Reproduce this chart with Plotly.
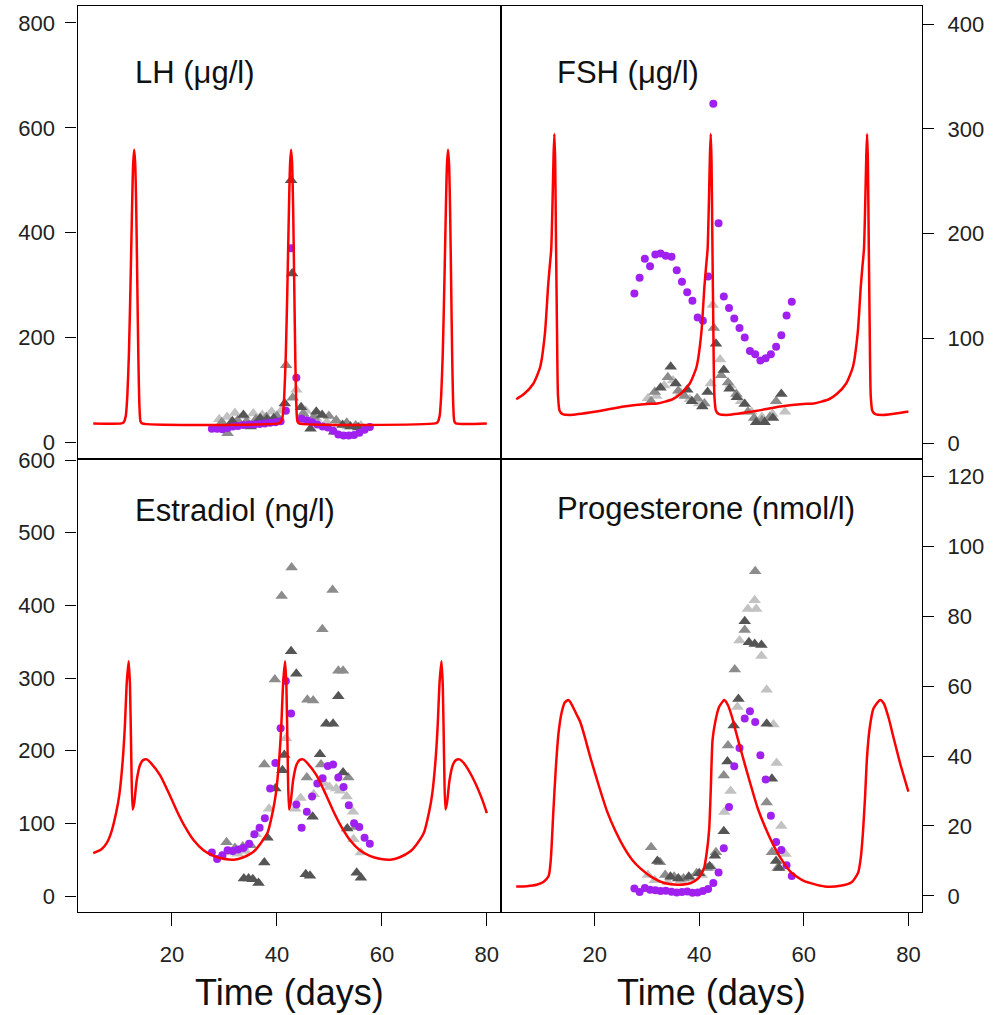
import plotly.graph_objects as go

# ---- model curves (red) ----
lh_t = [5.0, 10.4, 10.8, 11.2, 11.5, 11.8, 12.1, 12.4, 12.6, 12.8, 13.0, 13.2, 13.4, 13.6, 13.8, 14.0, 14.3,
        40.3, 40.7, 41.1, 41.4, 41.7, 42.0, 42.3, 42.5, 42.7, 42.9, 43.1, 43.3, 43.5, 43.7, 43.9, 44.2,
        70.2, 70.6, 71.0, 71.3, 71.6, 71.9, 72.2, 72.4, 72.6, 72.8, 73.0, 73.2, 73.4, 73.6, 73.8, 74.1, 80.0]
lh_model = [36, 36, 38, 50, 90, 170, 300, 450, 530, 558, 530, 440, 300, 160, 70, 40, 36,
            36, 38, 50, 90, 170, 300, 450, 530, 558, 530, 440, 300, 160, 70, 40, 36,
            36, 38, 50, 90, 170, 300, 450, 530, 558, 530, 440, 300, 160, 70, 40, 36, 36]

fsh_t = [5.0, 6.5, 8.3, 9.6, 10.5, 11.1, 11.4, 11.7, 11.95, 12.15, 12.3, 12.45, 12.6, 12.8, 13.0, 13.3, 13.8,
         15.3, 20.0, 25.6, 30.0, 32.0,
         34.9, 36.4, 38.2, 39.5, 40.4, 41.0, 41.3, 41.6, 41.85, 42.05, 42.2, 42.35, 42.5, 42.7, 42.9, 43.2, 43.7,
         45.2, 49.9, 55.5, 59.9, 61.9,
         64.8, 66.3, 68.1, 69.4, 70.3, 70.9, 71.2, 71.5, 71.75, 71.95, 72.1, 72.25, 72.4, 72.6, 72.8, 73.1, 73.6,
         75.1, 79.8, 80.0]
fsh_model = [42, 47, 57, 73, 105, 150, 168, 185, 230, 275, 295, 270, 200, 110, 45, 31, 28,
             27, 30, 35, 37.5, 38,
             42, 47, 57, 73, 105, 150, 168, 185, 230, 275, 295, 270, 200, 110, 45, 31, 28,
             27, 30, 35, 37.5, 38,
             42, 47, 57, 73, 105, 150, 168, 185, 230, 275, 295, 270, 200, 110, 45, 31, 28,
             27, 30, 30]

e2_t = [5.0, 6.5, 7.5, 8.4, 9.4, 10.0, 10.6, 11.0, 11.4, 11.75, 12.0, 12.25, 12.5, 12.8, 13.3, 13.9, 14.5,
        15.2, 16.0, 17.75, 19.5, 21.0, 22.5, 24.1, 26.0, 28.0, 30.0, 31.8, 33.5, 35.7,
        38.2, 39.2, 39.8, 40.4, 40.8, 41.2, 41.55, 41.8, 42.05, 42.3, 42.6, 43.1, 43.7, 44.3,
        45.0, 45.8, 47.55, 49.3, 50.8, 52.3, 53.9, 55.8, 57.8, 59.8, 61.6, 63.3, 65.5, 66.5,
        68.0, 69.0, 69.6, 70.2, 70.6, 71.0, 71.35, 71.6, 71.85, 72.1, 72.4, 72.9, 73.5, 74.1,
        74.8, 75.6, 77.35, 79.1, 80.0]
e2_model = [59, 64, 72, 87, 116, 141, 185, 230, 295, 323, 290, 190, 119, 128, 160, 180, 187,
            188, 183, 166, 140, 116, 95, 77, 63, 55, 51, 50, 53, 62,
            87, 116, 141, 185, 230, 295, 323, 290, 190, 119, 128, 160, 180, 187,
            188, 183, 166, 140, 116, 95, 77, 63, 55, 51, 50, 53, 62, 70,
            87, 116, 141, 185, 230, 295, 323, 290, 190, 119, 128, 160, 180, 187,
            188, 183, 162, 133, 114]

p4_t = [5.0, 7.0, 8.9, 10.2, 11.2, 11.6, 12.1, 12.6, 13.1, 13.7, 14.3, 15.0, 15.7, 16.5, 17.25, 18.2, 19.2,
        20.8, 22.4, 24.0, 25.6, 27.2, 28.8, 31.0, 33.3, 36.0, 38.4, 39.8, 40.9, 41.4, 41.9, 42.2, 42.55,
        43.1, 43.8, 44.8, 45.5, 46.3, 47.0, 48.0, 49.6, 51.2, 52.8, 54.4, 56.0, 57.6, 60.0, 64.0, 67.0,
        69.2, 70.4, 70.9, 71.3, 71.7, 72.1, 72.6, 73.3, 74.6, 75.3, 76.2, 77.2, 78.4, 80.0]
p4_model = [2.7, 2.8, 3.2, 4.0, 5.7, 10, 24, 37, 46.6, 52.5, 55.3, 56, 54.5, 52, 49.7, 45, 39.5,
            31.5, 24.1, 18.5, 13.9, 10.3, 7.8, 5.3, 3.7, 3.2, 3.7, 5.0, 7.8, 12, 19, 30, 44.6,
            50, 54, 56, 54.5, 51, 47, 41.5, 33, 25, 19, 13.9, 9.8, 6.7, 4.3, 2.7, 2.9,
            4.0, 6.7, 11, 18, 28, 40, 48, 53.5, 56, 55, 51, 45, 38, 29.8]

# ---- mean data (purple circles) ----
mean_days = [27.6, 28.6, 29.6, 30.6, 31.6, 32.6, 33.6, 34.7, 35.7, 36.7, 37.7, 38.7, 39.7, 40.7, 41.7,
             42.7, 43.7, 44.7, 45.7, 46.7, 47.7, 48.7, 49.7, 50.7, 51.7, 52.7, 53.7, 54.7, 55.7, 56.7, 57.7]
lh_mean = [26, 26, 25, 27, 30, 31, 33, 34, 34, 35, 36, 37, 38, 40, 60,
           370, 123, 45, 42, 38, 34, 30, 28, 22, 15, 13, 13, 14, 18, 24, 29]
fsh_mean = [143, 158, 176, 169, 180, 181, 179, 178, 165, 154, 144, 136, 120, 117, 159,
            324, 210, 140, 129, 119, 110, 101, 88, 85, 79, 81, 85, 92, 103, 122, 135]
e2_mean = [60, 51, 56, 63, 62, 64, 66, 72, 85, 94, 107, 148, 183, 231, 296,
           251, 126, 94, 116, 137, 155, 162, 179, 181, 163, 150, 125, 100, 95, 80, 72]
p4_mean = [2.1, 1.1, 2.3, 1.8, 1.6, 1.4, 1.5, 1.2, 1.0, 1.1, 1.3, 0.9, 1.0, 1.4, 2.0,
           3.7, 6.7, 13.6, 25.4, 37.1, 42.3, 50.7, 52.8, 49.7, 40.2, 33.3, 22.9, 15.4, 13.1, 8.8, 5.7]

# ---- individual subjects (grey triangles): dark, mid, light ----
lh_dark_t = [31.5, 33.6, 35.0, 36.8, 38.1, 39.4, 41.5, 42.7, 42.9, 44.6, 46.4, 47.5, 48.6, 50.9, 52.5, 54.0, 55.5]
lh_dark = [40, 52, 30, 46, 44, 46, 74, 500, 322, 67, 26, 58, 52, 20, 33, 30, 28]
lh_mid_t = [29.5, 30.6, 32.5, 34.2, 36.0, 38.0, 40.0, 41.75, 43.0, 45.0, 47.0, 49.9, 51.3, 53.3, 55.0]
lh_mid = [38, 17, 42, 40, 44, 48, 50, 147, 85, 55, 48, 50, 42, 37, 32]
lh_light_t = [29.0, 30.5, 32.0, 33.8, 35.5, 37.2, 39.0, 40.8, 43.7, 45.5, 47.5, 49.5, 51.5, 53.5, 56.0]
lh_light = [44, 48, 56, 50, 55, 52, 58, 60, 100, 60, 45, 38, 35, 30, 32]

fsh_dark_t = [32.6, 34.55, 35.5, 37.7, 38.6, 40.6, 41.6, 43.2, 44.7, 45.8, 47.2, 48.7, 50.9, 52.5, 54.1, 55.7]
fsh_dark = [53, 73, 57, 51, 40, 35, 49, 95, 70, 52, 44, 37.5, 20, 20, 24, 47]
fsh_mid_t = [30.8, 31.5, 34.0, 36.0, 37.2, 39.6, 41.0, 42.8, 44.2, 45.5, 47.1, 49.3, 50.5, 52.0, 53.5, 54.7]
fsh_mid = [40, 49, 63, 50, 45, 43, 38, 110, 65, 58, 47, 30, 24, 22, 25, 40]
fsh_light_t = [30.2, 31.8, 33.3, 35.0, 36.5, 38.2, 40.0, 42.2, 42.6, 44.0, 46.0, 48.0, 50.0, 52.0, 54.0, 56.4]
fsh_light = [43, 45, 55, 60, 48, 42, 38, 57, 132, 80, 55, 40, 30, 25, 28, 30]

e2_dark_t = [33.7, 34.6, 35.4, 36.5, 37.6, 38.2, 39.7, 41.05, 41.4, 42.7, 43.7, 45.5, 46.3, 46.8,
             48.2, 49.4, 50.7, 51.7, 52.6, 53.4, 55.2, 56.0]
e2_dark = [24, 24, 23, 18, 46, 80, 148, 173, 194, 337, 306, 30, 28, 109,
           195, 237, 237, 275, 170, 93, 32, 25]
e2_mid_t = [30.4, 32.0, 33.5, 35.0, 37.6, 39.6, 40.9, 42.8, 45.7, 45.8, 46.9, 48.4, 48.65, 50.6,
            51.7, 52.6, 53.6, 55.0]
e2_mid = [74, 66, 68, 70, 181, 298, 413, 452, 163, 270, 269, 181, 367, 421, 310, 310, 163, 95]
e2_light_t = [29.5, 31.0, 32.5, 34.0, 36.0, 38.5, 41.7, 43.5, 44.5, 47.0, 49.0, 50.0, 51.3, 52.0,
              53.3, 54.5, 54.6, 56.0]
e2_light = [55, 60, 58, 62, 85, 120, 217, 120, 135, 140, 155, 150, 148, 145, 137, 116, 78, 60]

p4_dark_t = [32.0, 34.5, 36.0, 38.0, 40.0, 42.0, 43.0, 44.7, 45.4, 46.6, 47.5, 48.7, 49.5, 50.6,
             51.9, 52.9, 53.9, 54.7, 55.3]
p4_dark = [10, 5.5, 5, 5.5, 6.5, 8.5, 11.5, 18.5, 38.4, 48.7, 56.3, 78.5, 72.5, 72, 71.7, 49.2, 33.5, 10, 8]
p4_mid_t = [30.8, 32.5, 33.5, 35.2, 37.0, 39.5, 41.5, 43.2, 44.7, 45.5, 46.8, 48.7, 50.7, 52.9, 53.9, 55.0]
p4_mid = [13.9, 9.6, 6, 5.5, 5, 6.5, 8, 12.5, 34.4, 43, 64.7, 76, 92.8, 26.7, 12.5, 8]
p4_light_t = [30.2, 31.5, 34.0, 36.5, 38.5, 40.5, 42.5, 44.8, 46.0, 47.3, 47.7, 49.3, 50.6, 50.9,
              51.9, 52.9, 54.2, 54.8, 55.7, 56.5]
p4_light = [6, 4.5, 4, 4.5, 5, 6, 8, 24, 30, 54, 73, 82, 84.5, 82, 68.6, 58.9, 49, 38, 20, 12]

RED = "#ff0000"
PURPLE = "#a020f0"
GREYS = ["#555555", "#8c8c8c", "#c2c2c2"]
FONT = "Liberation Sans, Arial, Helvetica, sans-serif"

panels = [
    # (xaxis, yaxis, model t, model y, mean, subjects)
    ("x", "y", lh_t, lh_model, lh_mean,
     [(lh_dark_t, lh_dark), (lh_mid_t, lh_mid), (lh_light_t, lh_light)]),
    ("x2", "y2", fsh_t, fsh_model, fsh_mean,
     [(fsh_dark_t, fsh_dark), (fsh_mid_t, fsh_mid), (fsh_light_t, fsh_light)]),
    ("x3", "y3", e2_t, e2_model, e2_mean,
     [(e2_dark_t, e2_dark), (e2_mid_t, e2_mid), (e2_light_t, e2_light)]),
    ("x4", "y4", p4_t, p4_model, p4_mean,
     [(p4_dark_t, p4_dark), (p4_mid_t, p4_mid), (p4_light_t, p4_light)]),
]

fig = go.Figure()

for xa, ya, mt, my, mean, subjects in panels:
    # light subjects first so darker triangles sit on top
    for (st, sv), col in reversed(list(zip(subjects, GREYS))):
        fig.add_trace(go.Scatter(
            x=st, y=sv, mode="markers", xaxis=xa, yaxis=ya,
            marker=dict(symbol="triangle-up", size=11, color=col, line=dict(width=0)),
            showlegend=False, hoverinfo="skip"))
    fig.add_trace(go.Scatter(
        x=mean_days, y=mean, mode="markers", xaxis=xa, yaxis=ya,
        marker=dict(symbol="circle", size=8, color=PURPLE, line=dict(width=0)),
        showlegend=False, hoverinfo="skip"))
    fig.add_trace(go.Scatter(
        x=mt, y=my, mode="lines", xaxis=xa, yaxis=ya,
        line=dict(color=RED, width=2.5, shape="spline", smoothing=0.6),
        showlegend=False, hoverinfo="skip"))

W, H = 994, 1015
left_dom = [77.5 / W, 500.5 / W]
right_dom = [500.5 / W, 922 / W]
top_dom = [1 - 459.3 / H, 1 - 6 / H]
bot_dom = [1 - 911.7 / H, 1 - 459.3 / H]
X_RANGE = [2.0, 82.6]

frame = dict(showline=True, mirror=True, linecolor="black", linewidth=1.1,
             showgrid=False, zeroline=False, automargin=False)
tickfont = dict(family=FONT, size=22, color="#222222")

def xaxis(dom, anchor, labels):
    ax = dict(domain=dom, anchor=anchor, range=X_RANGE, **frame)
    if labels:
        ax.update(tickvals=[20, 40, 60, 80], ticks="outside", ticklen=13, tickwidth=1.2,
                  tickcolor="black", tickfont=tickfont, ticklabelstandoff=10)
    else:
        ax.update(ticks="", showticklabels=False)
    return ax

def yaxis(dom, anchor, rng, vals, side):
    return dict(domain=dom, anchor=anchor, range=rng, tickvals=vals, side=side,
                ticks="outside", ticklen=11, tickwidth=1.2, tickcolor="black",
                tickfont=tickfont, ticklabelstandoff=6 if side == "left" else 9, **frame)

fig.update_layout(
    width=W, height=H,
    margin=dict(l=0, r=0, t=0, b=0, pad=0),
    paper_bgcolor="white", plot_bgcolor="white",
    font=dict(family=FONT, color="#111111"),
    xaxis=xaxis(left_dom, "y", False),
    yaxis=yaxis(top_dom, "x", [-32.5, 832.4], [0, 200, 400, 600, 800], "left"),
    xaxis2=xaxis(right_dom, "y2", False),
    yaxis2=yaxis(top_dom, "x2", [-15.3, 417.2], [0, 100, 200, 300, 400], "right"),
    xaxis3=xaxis(left_dom, "y3", True),
    yaxis3=yaxis(bot_dom, "x3", [-21.6, 601.0], [0, 100, 200, 300, 400, 500, 600], "left"),
    xaxis4=xaxis(right_dom, "y4", True),
    yaxis4=yaxis(bot_dom, "x4", [-4.5, 124.8], [0, 20, 40, 60, 80, 100, 120], "right"),
)

titles = [
    ("LH (μg/l)", 133, 72),
    ("FSH (μg/l)", 555, 72),
    ("Estradiol (ng/l)", 133, 510),
    ("Progesterone (nmol/l)", 555, 508),
]
for txt, px, py in titles:
    fig.add_annotation(text=txt, x=px / W, y=1 - py / H, xref="paper", yref="paper",
                       xanchor="left", yanchor="middle", showarrow=False,
                       font=dict(family=FONT, size=31, color="#111111"))

for cx in (289, 711):
    fig.add_annotation(text="Time (days)", x=cx / W, y=1 - 992 / H, xref="paper", yref="paper",
                       xanchor="center", yanchor="middle", showarrow=False,
                       font=dict(family=FONT, size=36, color="#111111"))

# the page body has a default 8px margin; drop it so the figure fills the window
fig.write_html("out.html", config={"displayModeBar": False},
               post_script="document.body.style.margin='0';")
